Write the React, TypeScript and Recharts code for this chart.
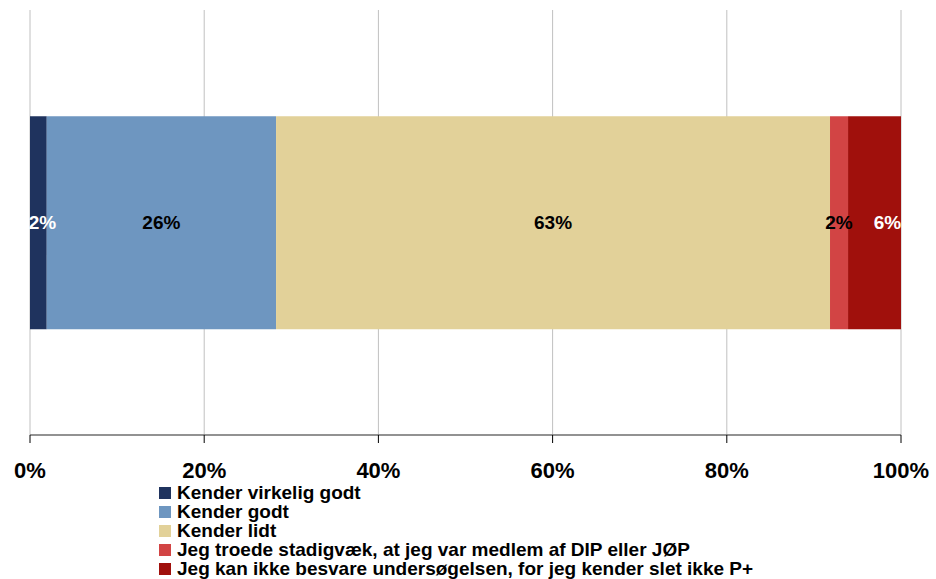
import React from "react";
import { BarChart, Bar, XAxis, YAxis, CartesianGrid, LabelList } from "recharts";

const categories = ["P+"];
const seriesNames = [
  "Kender virkelig godt",
  "Kender godt",
  "Kender lidt",
  "Jeg troede stadigvæk, at jeg var medlem af DIP eller JØP",
  "Jeg kan ikke besvare undersøgelsen, for jeg kender slet ikke P+",
];
const seriesKeys = ["s1", "s2", "s3", "s4", "s5"];
const kenderVirkeligGodt = [1.92];
const kenderGodt = [26.33];
const kenderLidt = [63.6];
const troedeMedlem = [2.07];
const kenderSletIkke = [6.08];
const valueLabels = ["2%", "26%", "63%", "2%", "6%"];
const xTicks = [0, 20, 40, 60, 80, 100];

const colors = ["#1F335E", "#6E96C0", "#E2D199", "#D24444", "#A0100C"];
const labelColors = ["#FFFFFF", "#000000", "#000000", "#000000", "#FFFFFF"];
const labelDx = [4, 0, 0, 0, 13];

const seriesValues = [kenderVirkeligGodt, kenderGodt, kenderLidt, troedeMedlem, kenderSletIkke];

const data = categories.map((cat, i) => {
  const row: Record<string, any> = { cat };
  seriesKeys.forEach((k, j) => {
    row[k] = seriesValues[j][i];
  });
  return row;
});

const FONT = "'Liberation Sans', Arial, sans-serif";

const makeLabel = (idx: number) => (props: any) => {
  const { x, y, width, height } = props;
  return (
    <text
      x={x + width / 2 + labelDx[idx]}
      y={y + height / 2}
      textAnchor="middle"
      dominantBaseline="central"
      fill={labelColors[idx]}
      fontFamily={FONT}
      fontWeight="bold"
      fontSize={19}
    >
      {valueLabels[idx]}
    </text>
  );
};

export default function App() {
  return (
    <div style={{ position: "absolute", left: 0, top: 0, width: 936, height: 579, background: "#fff" }}>
      <BarChart
        width={936}
        height={579}
        data={data}
        layout="vertical"
        margin={{ top: 10, right: 35, left: 30, bottom: 0 }}
        barCategoryGap="25%"
      >
        <CartesianGrid horizontal={false} vertical={true} stroke="#C0C0C0" strokeWidth={1} />
        <XAxis
          type="number"
          domain={[0, 100]}
          ticks={xTicks}
          tickFormatter={(v: number) => `${v}%`}
          height={144}
          axisLine={{ stroke: "#6E6E6E", strokeWidth: 1.5 }}
          tickLine={{ stroke: "#000", strokeWidth: 1 }}
          tickSize={8}
          tickMargin={19}
          tick={{ fill: "#000", fontFamily: FONT, fontWeight: "bold", fontSize: 22 }}
          interval={0}
        />
        <YAxis
          type="category"
          dataKey="cat"
          width={0}
          tick={false}
          tickLine={false}
          axisLine={{ stroke: "#000", strokeWidth: 1.5 }}
        />
        {seriesKeys.map((k, i) => (
          <Bar key={k} dataKey={k} stackId="a" fill={colors[i]} isAnimationActive={false}>
            <LabelList dataKey={k} content={makeLabel(i)} />
          </Bar>
        ))}
      </BarChart>
      <div
        style={{
          position: "absolute",
          left: 159,
          top: 483,
          fontFamily: FONT,
          fontWeight: "bold",
          fontSize: 19,
          color: "#000",
        }}
      >
        {seriesNames.map((n, i) => (
          <div key={n} style={{ display: "flex", alignItems: "center", height: 19, whiteSpace: "nowrap" }}>
            <span style={{ display: "inline-block", width: 12, height: 12, background: colors[i], marginRight: 6, flexShrink: 0 }} />
            <span style={{ lineHeight: "19px" }}>{n}</span>
          </div>
        ))}
      </div>
    </div>
  );
}
